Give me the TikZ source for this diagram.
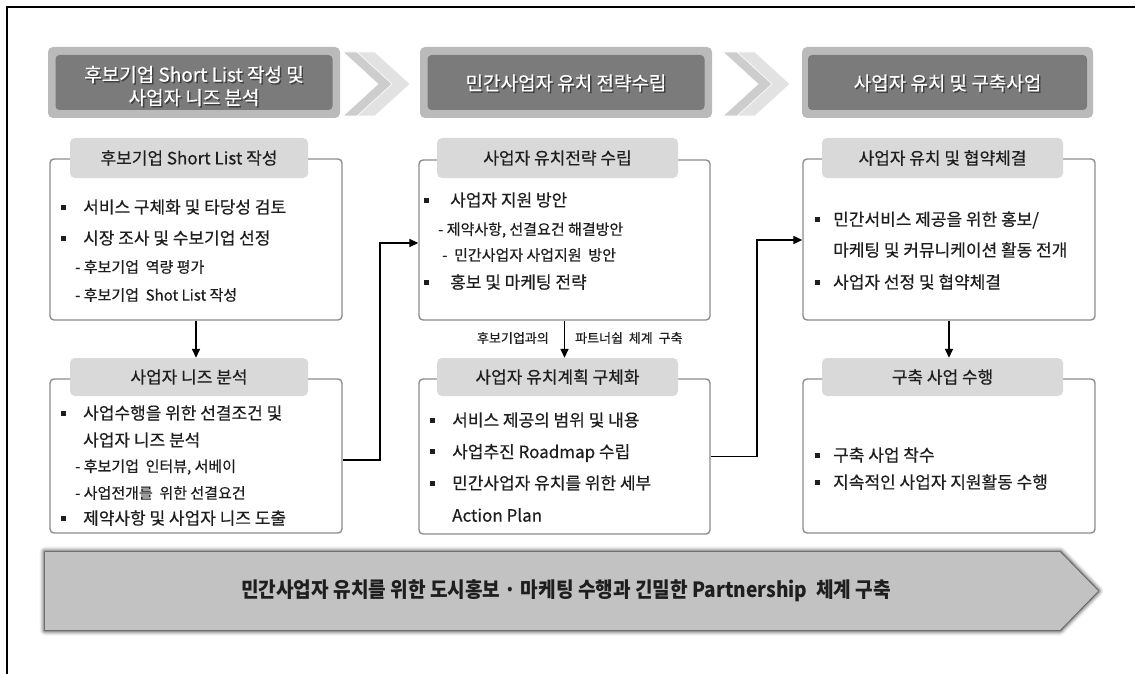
\documentclass[tikz,border=0pt]{standalone}
\usepackage{fontspec}
\usepackage{graphicx}
\setmainfont{Noto Sans CJK KR}
\newfontfamily\medfont{Noto Sans CJK KR}[FakeBold=0.4]
\usetikzlibrary{arrows.meta,calc}
\definecolor{hdrout}{HTML}{BABABA}
\definecolor{hdrin}{HTML}{7B7B7B}
\definecolor{tabgray}{HTML}{D9D9D9}
\definecolor{boxline}{HTML}{8C8C8C}
\definecolor{chevback}{HTML}{CDCDCD}
\definecolor{chevfront}{HTML}{E2E2E2}
\definecolor{bigfill}{HTML}{C2C2C2}
\definecolor{txt}{HTML}{1E1E1E}
\newcommand{\bul}[1]{\makebox[#1][l]{\raisebox{3.7pt}{\rule{5pt}{5pt}}}}
\tikzset{
  hdrouter/.style={fill=hdrout, rounded corners=5pt, inner sep=0pt},
  hdrinner/.style={fill=hdrin, rounded corners=4pt, inner sep=0pt},
  hdrtext/.style={text=white, font=\medfont\fontsize{19}{23}\selectfont, align=center, inner sep=0pt},
  hdrshadow/.style={text=black!75, font=\medfont\fontsize{19}{23}\selectfont, align=center, inner sep=0pt},
  box/.style={draw=boxline, line width=1.4pt, rounded corners=4pt, fill=white, inner sep=0pt},
  tabbox/.style={fill=tabgray, rounded corners=5pt, inner sep=0pt, text=txt, font=\medfont\fontsize{17}{20}\selectfont},
  item/.style={anchor=west, inner sep=0pt, text=txt, font=\medfont\fontsize{17}{20}\selectfont},
  subitem/.style={anchor=west, inner sep=0pt, text=txt, font=\medfont\fontsize{15}{18}\selectfont},
  lab/.style={inner sep=0pt, text=txt, font=\medfont\fontsize{13}{16}\selectfont},
  conn/.style={line width=1.6pt, -{Triangle[length=9pt,width=8pt]}},
  chevb/.style={fill=chevback, draw=white, line width=0.6pt},
  chevf/.style={fill=chevfront, draw=white, line width=0.6pt}
}
\begin{document}
\begin{tikzpicture}[x=1pt,y=-1pt]
\useasboundingbox (0,0) rectangle (1135,674);
% frame
\draw[line width=2pt] (7,674) -- (7,7) -- (1135,7);

% headers
\node[hdrouter, minimum width=292pt, minimum height=71pt] (h1o) at (194,82.5) {};
\node[hdrinner, minimum width=277pt, minimum height=55pt] (h1i) at (194,82.5) {};
\node[hdrshadow] (h1s) at (195.5,87.5) {후보기업 Short List 작성 및\\사업자 니즈 분석};
\node[hdrtext] (h1t) at (194,86) {후보기업 Short List 작성 및\\사업자 니즈 분석};

\node[hdrouter, minimum width=292pt, minimum height=71pt] (h2o) at (566,82.5) {};
\node[hdrinner, minimum width=277pt, minimum height=55pt] (h2i) at (566,82.5) {};
\node[hdrshadow] (h2s) at (567.5,84.5) {민간사업자 유치 전략수립};
\node[hdrtext] (h2t) at (566,83) {민간사업자 유치 전략수립};

\node[hdrouter, minimum width=291pt, minimum height=71pt] (h3o) at (947.5,82.5) {};
\node[hdrinner, minimum width=279pt, minimum height=55pt] (h3i) at (947.5,82.5) {};
\node[hdrshadow] (h3s) at (949,84.5) {사업자 유치 및 구축사업};
\node[hdrtext] (h3t) at (947.5,83) {사업자 유치 및 구축사업};

% chevrons
\foreach \dx in {0,380}{
  \begin{scope}[xshift=\dx pt]
  \path[chevb] (343,52) -- (361,52) -- (396,84) -- (361,116) -- (343,116) -- (378,84) -- cycle;
  \path[chevf] (357,52) -- (375,52) -- (410,84) -- (375,116) -- (357,116) -- (392,84) -- cycle;
  \end{scope}
}

% boxes
\node[box, minimum width=292pt, minimum height=161pt] (boxA) at (196,239.5) {};
\node[box, minimum width=292pt, minimum height=154pt] (boxB) at (196,456) {};
\node[box, minimum width=291pt, minimum height=160pt] (boxC) at (564.5,240) {};
\node[box, minimum width=291pt, minimum height=155pt] (boxD) at (564.5,456.5) {};
\node[box, minimum width=292pt, minimum height=161pt] (boxE) at (949,239.5) {};
\node[box, minimum width=292pt, minimum height=154pt] (boxF) at (949,456) {};

% tabs
\node[tabbox, minimum width=238pt, minimum height=40pt] (tabA) at (189,158) {후보기업 Short List 작성};
\node[tabbox, minimum width=238pt, minimum height=38pt] (tabB) at (189,377) {사업자 니즈 분석};
\node[tabbox, minimum width=241pt, minimum height=40pt] (tabC) at (557.5,158) {사업자 유치전략 수립};
\node[tabbox, minimum width=241pt, minimum height=38pt] (tabD) at (557.5,377) {사업자 유치계획 구체화};
\node[tabbox, minimum width=241pt, minimum height=40pt] (tabE) at (942.5,158) {사업자 유치 및 협약체결};
\node[tabbox, minimum width=241pt, minimum height=38pt] (tabF) at (942.5,377) {구축 사업 수행};

% box A content
\node[item] (a1) at (61,207) {\bul{22pt}서비스 구체화 및 타당성 검토};
\node[item] (a2) at (61,238) {\bul{22pt}시장 조사 및 수보기업 선정};
\node[subitem] (a3) at (75,267) {- 후보기업\ \ 역량 평가};
\node[subitem] (a4) at (75,295) {- 후보기업\ \ Shot List 작성};

% box B content
\node[item] (b1) at (61,413) {\bul{22pt}사업수행을 위한 선결조건 및};
\node[item] (b2) at (83,440) {사업자 니즈 분석};
\node[subitem] (b3) at (75,467) {- 후보기업\ \ 인터뷰, 서베이};
\node[subitem] (b4) at (75,493) {- 사업전개를\ \ 위한 선결요건};
\node[item] (b5) at (61,518) {\bul{22pt}제약사항 및 사업자 니즈 도출};

% box C content
\node[item] (c1) at (424,200) {\bul{26pt}사업자 지원 방안};
\node[subitem] (c2) at (438,230) {- 제약사항, 선결요건 해결방안};
\node[subitem] (c3) at (442,255) {-\ \ 민간사업자 사업지원\ \ 방안};
\node[item] (c4) at (424,282) {\bul{26pt}홍보 및 마케팅 전략};

% label between C and D
\node[lab, anchor=east] (l1) at (549,338) {후보기업과의};
\node[lab, anchor=west] (l2) at (575,338) {파트너쉽\ \ 체계\ \ 구축};

% box D content
\node[item] (d1) at (430,420) {\bul{22pt}서비스 제공의 범위 및 내용};
\node[item] (d2) at (430,453) {\bul{22pt}사업추진 Roadmap 수립};
\node[item] (d3) at (430,483) {\bul{22pt}민간사업자 유치를 위한 세부};
\node[item] (d4) at (452,515) {Action Plan};

% box E content
\node[item] (e1) at (815,220) {\bul{18pt}민간서비스 제공을 위한 홍보/};
\node[item] (e2) at (833,250) {마케팅 및 커뮤니케이션 활동 전개};
\node[item] (e3) at (815,282) {\bul{18pt}사업자 선정 및 협약체결};

% box F content
\node[item] (f1) at (815,455) {\bul{18pt}구축 사업 착수};
\node[item] (f2) at (815,482) {\bul{18pt}지속적인 사업자 지원활동 수행};

% connectors
\draw[conn] (boxA.south) -- (boxA.south |- tabB.north);
\draw[conn] (boxC.south) -- (boxC.south |- tabD.north);
\draw[conn] (boxE.south) -- (boxE.south |- tabF.north);
\coordinate (bc) at (380,243);
\coordinate (de) at (757,240);
\draw[conn] ([yshift=-4pt]boxB.east) -| (bc) -- (bc -| boxC.west);
\draw[conn] (boxD.east) -| (de) -- (de -| boxE.west);

% bottom arrow with glow
\foreach \w/\o in {11/0.05,9/0.07,7/0.10,5/0.14,3/0.2,1.5/0.3}{
  \draw[line width=\w pt, black, opacity=\o, line join=round]
    (45,552) -- (1060,552) -- (1098,591) -- (1060,630) -- (45,630) -- cycle;
}
\fill[bigfill] (45,552) -- (1060,552) -- (1098,591) -- (1060,630) -- (45,630) -- cycle;
\node[inner sep=0pt, text=txt] (bottomtxt) at (566,591)
  {\scalebox{0.91}[1]{\fontsize{21}{24}\selectfont\bfseries 민간사업자 유치를 위한 도시홍보 · 마케팅 수행과 긴밀한 Partnership\ \ 체계 구축}};
\end{tikzpicture}
\end{document}
